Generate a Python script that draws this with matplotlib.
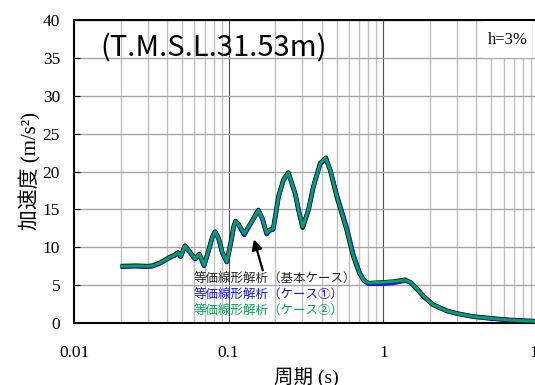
import matplotlib
matplotlib.use('Agg')
import matplotlib.pyplot as plt
from matplotlib.patches import Rectangle

# period (s)
period = [0.02, 0.025, 0.03, 0.032, 0.034, 0.036, 0.0387, 0.0417, 0.045, 0.047,
          0.049, 0.0522, 0.056, 0.0606, 0.0646, 0.0693, 0.074, 0.0785, 0.0817, 0.086,
          0.091, 0.0972, 0.103, 0.108, 0.111, 0.116, 0.126, 0.14, 0.1556, 0.165,
          0.176, 0.185, 0.194, 0.2, 0.21, 0.226, 0.243, 0.269, 0.286, 0.301,
          0.328, 0.353, 0.391, 0.4246, 0.453, 0.5, 0.58, 0.641, 0.7, 0.75,
          0.8, 0.9, 1.0, 1.15, 1.3, 1.38, 1.5, 1.65, 1.82, 2.1,
          2.57, 3.0, 3.8, 5.0, 6.5, 8.0, 10.0]

# 等価線形解析（基本ケース）
acc_base = [7.5, 7.55, 7.5, 7.55, 7.75, 7.95, 8.3, 8.7, 9.0, 9.3,
            8.8, 10.2, 9.4, 8.5, 9.1, 7.6, 9.5, 11.4, 12.05, 11.2,
            9.3, 8.1, 10.5, 12.8, 13.45, 13.0, 11.7, 13.3, 14.9, 13.8,
            11.8, 12.3, 12.4, 14.0, 16.7, 18.9, 19.85, 17.1, 14.5, 12.6,
            14.9, 18.0, 21.1, 21.8, 20.2, 16.7, 12.3, 8.75, 6.6, 5.6,
            5.25, 5.3, 5.35, 5.45, 5.6, 5.7, 5.35, 4.5, 3.5, 2.4,
            1.6, 1.25, 0.85, 0.6, 0.4, 0.3, 0.22]

# 等価線形解析（ケース①）
acc_case1 = [7.4, 7.45, 7.4, 7.45, 7.65, 7.85, 8.2, 8.6, 8.9, 9.2,
             8.7, 10.1, 9.3, 8.4, 9.0, 7.5, 9.4, 11.3, 12.0, 11.1,
             9.2, 8.0, 10.4, 12.7, 13.4, 12.9, 11.6, 13.2, 14.9, 13.7,
             11.7, 12.2, 12.3, 13.9, 16.6, 18.8, 19.8, 17.1, 14.5, 12.7,
             15.0, 18.0, 21.0, 21.7, 20.3, 17.0, 12.7, 9.1, 6.8, 5.6,
             5.15, 5.15, 5.15, 5.25, 5.45, 5.6, 5.35, 4.55, 3.55, 2.45,
             1.6, 1.25, 0.85, 0.6, 0.4, 0.3, 0.22]

# 等価線形解析（ケース②）
acc_case2 = [7.5, 7.55, 7.5, 7.55, 7.75, 7.95, 8.3, 8.7, 9.0, 9.3,
             8.8, 10.2, 9.4, 8.5, 9.1, 7.6, 9.5, 11.4, 12.05, 11.2,
             9.3, 8.1, 10.5, 12.8, 13.45, 13.0, 11.8, 13.3, 14.9, 13.8,
             11.9, 12.3, 12.4, 14.0, 16.7, 18.9, 19.85, 17.1, 14.5, 12.7,
             14.9, 18.0, 21.1, 21.8, 20.2, 16.7, 12.3, 8.75, 6.6, 5.6,
             5.3, 5.35, 5.4, 5.5, 5.6, 5.7, 5.35, 4.5, 3.5, 2.4,
             1.6, 1.25, 0.85, 0.6, 0.4, 0.3, 0.22]

labels = ['等価線形解析（基本ケース）', '等価線形解析（ケース①）', '等価線形解析（ケース②）']
colors = ['black', '#1414f0', '#00a651']

plt.rcParams['font.family'] = ['Liberation Serif', 'Noto Sans CJK JP']
sans = ['Noto Sans CJK JP', 'DejaVu Sans']

fig = plt.figure(figsize=(5.35, 3.85), dpi=100)
ax = fig.add_axes([74 / 535, 62 / 385, 464 / 535, 303 / 385])

ax.plot(period, acc_base, color=colors[0], lw=3.4, zorder=3, solid_capstyle='butt')
ax.plot(period, acc_case1, color=colors[1], lw=2.9, zorder=4, solid_capstyle='butt')
ax.plot(period, acc_case2, color=colors[2], lw=2.1, zorder=5, solid_capstyle='butt')

ax.set_xscale('log')
ax.set_xlim(0.01, 10)
ax.set_ylim(0, 40)
ax.set_yticks(range(0, 41, 5))
ax.set_xticks([0.01, 0.1, 1, 10])
ax.set_xticklabels(['0.01', '0.1', '1', '10'])

ax.grid(True, which='major', axis='y', color='#a6a6a6', lw=1.0)
ax.grid(True, which='major', axis='x', color='#505050', lw=0.8)
ax.grid(True, which='minor', axis='x', color='#c0c0c0', lw=1.0)
ax.set_axisbelow(True)

ax.tick_params(axis='y', direction='in', length=4, labelsize=12.5, pad=10)
ax.tick_params(axis='x', which='both', length=0, labelsize=12.5, pad=16)
for s in ax.spines.values():
    s.set_linewidth(1.5)

ax.set_ylabel('加速度 (m/s²)', fontsize=15, labelpad=1)
ax.set_xlabel('周期 (s)', fontsize=14, labelpad=4)

ax.text(0.0147, 36.2, '(T.M.S.L.31.53m)', fontsize=21, family=sans,
        va='center', zorder=6)

ax.add_patch(Rectangle((0.881, 0.875), 0.106, 0.125, transform=ax.transAxes,
                       facecolor='white', edgecolor='none', zorder=2))
ax.text(0.934, 0.935, 'h=3%', transform=ax.transAxes, fontsize=12,
        ha='center', va='center', zorder=6)

for lbl, c, yv in zip(labels, colors, [5.8, 3.7, 1.6]):
    ax.text(0.0589, yv, lbl, color=c if c != 'black' else '#262626', fontsize=9,
            family=sans, va='center', zorder=6)

ax.annotate('', xy=(0.144, 11.4), xytext=(0.168, 6.6),
            arrowprops=dict(arrowstyle='-|>', color='black', lw=1.6, mutation_scale=15),
            zorder=6)

fig.savefig('out.png', dpi=100)
